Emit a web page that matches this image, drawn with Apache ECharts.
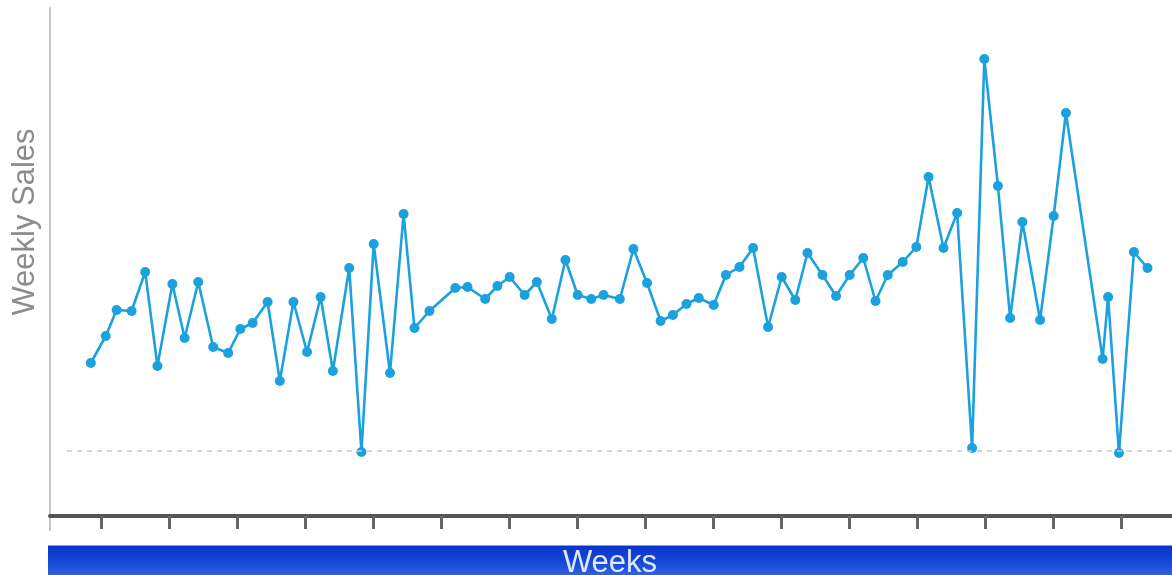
<!DOCTYPE html>
<html>
<head>
<meta charset="utf-8">
<title>Weekly Sales</title>
<script src="https://cdn.jsdelivr.net/npm/echarts@6/dist/echarts.min.js"></script>
<style>
  html, body { margin: 0; padding: 0; background: #ffffff; }
  #chart { width: 1172px; height: 575px; }
</style>
</head>
<body>
<div id="chart"></div>
<script>
// Week position of each observation (weeks from the start of the axis)
const weeks = [
  3.0, 4.1, 4.9, 6.0, 7.0, 7.9, 9.0, 9.9, 10.9, 12.0,
  13.1, 14.0, 14.9, 16.0, 16.9, 17.9, 18.9, 19.9, 20.8, 22.0,
  22.9, 23.8, 25.0, 26.0, 26.8, 27.9, 29.8, 30.7, 32.0, 32.9,
  33.8, 34.9, 35.8, 36.9, 37.9, 38.8, 39.8, 40.7, 41.9, 42.9,
  43.9, 44.9, 45.8, 46.8, 47.7, 48.8, 49.7, 50.7, 51.7, 52.8,
  53.8, 54.8, 55.7, 56.8, 57.8, 58.8, 59.8, 60.7, 61.6, 62.7,
  63.7, 64.6, 65.7, 66.7, 67.8, 68.7, 69.7, 70.6, 71.5, 72.8,
  73.8, 74.7, 77.4, 77.8, 78.6, 79.7, 80.7
];

// Sales recorded for each of those weeks
const sales = [
  15300, 18000, 20600, 20500, 24400, 15000, 23200, 17800, 23400, 16900,
  16300, 18700, 19300, 21400, 13500, 21400, 16400, 21900, 14500, 24800,
  6400, 27200, 14300, 30200, 18800, 20500, 22800, 22900, 21700, 23000,
  23900, 22100, 23400, 19700, 25600, 22100, 21700, 22100, 21700, 26700,
  23300, 19500, 20100, 21200, 21800, 21100, 24100, 24900, 26800, 18900,
  23900, 21600, 26300, 24100, 22000, 24100, 25800, 21500, 24100, 25400,
  26900, 33900, 26800, 30300, 6800, 45700, 33000, 19800, 29400, 19600,
  30000, 40300, 15700, 21900, 6300, 26400, 24800
];

// Week positions of the tick marks along the time axis
const tickWeeks = [
  3.75, 8.75, 13.75, 18.75, 23.75, 28.75, 33.75, 38.75,
  43.75, 48.75, 53.75, 58.75, 63.75, 68.75, 73.75, 78.75
];

// Reference level drawn as a dashed line
const baselineSales = 6500;

const points = weeks.map((w, i) => [w, sales[i]]);

const chart = echarts.init(document.getElementById('chart'), null, { renderer: 'canvas' });

chart.setOption({
  animation: false,
  backgroundColor: '#ffffff',
  grid: { left: 50, right: 0, top: 8, bottom: 59, containLabel: false },
  xAxis: {
    type: 'value',
    min: 0,
    max: 82.5,
    axisLine: { show: true, lineStyle: { color: '#555555', width: 4 } },
    axisTick: {
      show: true,
      customValues: tickWeeks,
      length: 13,
      lineStyle: { color: '#666666', width: 3 }
    },
    axisLabel: { show: false },
    splitLine: { show: false }
  },
  yAxis: {
    type: 'value',
    min: 0,
    max: 50800,
    axisLine: { show: true, lineStyle: { color: '#c4c4c4', width: 2 } },
    axisTick: { show: false },
    axisLabel: { show: false },
    splitLine: { show: false }
  },
  series: [{
    type: 'line',
    data: points,
    symbol: 'circle',
    symbolSize: 10,
    lineStyle: { color: '#1ba1dd', width: 2.6 },
    itemStyle: { color: '#1ba1dd' },
    z: 3,
    markLine: {
      silent: true,
      symbol: 'none',
      label: { show: false },
      lineStyle: { color: '#c8c8c8', type: [5, 5], width: 1.5 },
      data: [[{ coord: [1.25, baselineSales] }, { coord: [82.5, baselineSales] }]]
    }
  }],
  graphic: [
    {
      type: 'line',
      shape: { x1: 50, y1: 516, x2: 50, y2: 531 },
      style: { stroke: '#c4c4c4', lineWidth: 2 }
    },
    {
      type: 'rect',
      shape: { x: 48, y: 545, width: 1124, height: 30 },
      style: {
        fill: new echarts.graphic.LinearGradient(0, 0, 0, 1, [
          { offset: 0, color: '#0a33cc' },
          { offset: 0.5, color: '#1445d6' },
          { offset: 1, color: '#2b62e2' }
        ])
      }
    },
    {
      type: 'line',
      shape: { x1: 48, y1: 545.5, x2: 1172, y2: 545.5 },
      style: { stroke: '#7f9cf0', lineWidth: 1 }
    },
    {
      type: 'text',
      x: 610,
      y: 563,
      style: {
        text: 'Weeks',
        fill: '#dfe9ff',
        font: '31px "Liberation Sans", Arial, sans-serif',
        textAlign: 'center',
        textVerticalAlign: 'middle'
      }
    },
    {
      type: 'text',
      x: 25,
      y: 222,
      rotation: Math.PI / 2,
      style: {
        text: 'Weekly Sales',
        fill: '#8c8c8c',
        font: '31px "Liberation Sans", Arial, sans-serif',
        textAlign: 'center',
        textVerticalAlign: 'middle'
      }
    }
  ]
});
</script>
</body>
</html>
